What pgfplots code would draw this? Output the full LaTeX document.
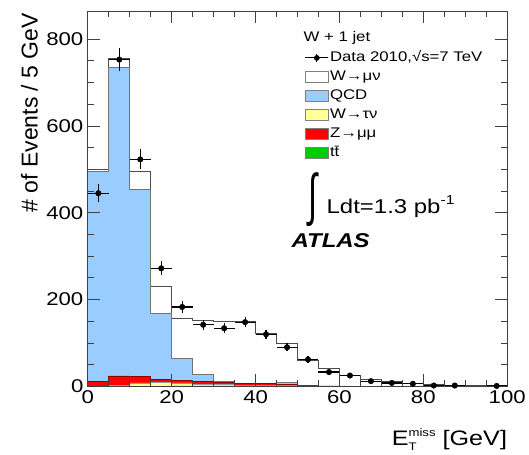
\documentclass[border=0pt]{standalone}
\usepackage{pgfplots}
\pgfplotsset{compat=1.18}
\usepackage{pgfplotstable}
\usepackage{graphicx}
\usepackage{fontspec}
\setmainfont{Liberation Sans}[FakeStretch=1.2]
\newfontfamily\plainsans{Liberation Sans}
\definecolor{qcdblue}{RGB}{153,204,255}
\definecolor{wtau}{RGB}{255,255,153}
\definecolor{zred}{RGB}{255,0,0}
\definecolor{ttgreen}{RGB}{0,204,0}

\pgfplotstableread{
x tot qcd red yel grn
0 501 495 12 0 0
5 756 735 24 2 0
10 495 454 22 8 0
15 230 169 17 9 0
20 157 65 14 8 1
25 152 27 11 5 1
30 150 12 10 4 1
35 150 8 7 3 1
40 123 8 7 3 1
45 100 10 5 2 1
50 59 2 2 1 0
55 41 1 1 0 0
60 25 0 0 0 0
65 16 0 0 0 0
70 11 0 0 0 0
75 7 0 0 0 0
80 4 0 0 0 0
85 3 0 0 0 0
90 2 0 0 0 0
95 1 0 0 0 0
100 1 0 0 0 0
}\stack

\pgfplotstableread{
x y ey
2.5 445 21.1
7.5 753 27.4
12.5 523 22.9
17.5 272 16.5
22.5 183 13.5
27.5 142 11.9
32.5 134 11.6
37.5 148 12.2
42.5 120 11.0
47.5 90 9.5
52.5 62 7.9
57.5 33 5.7
62.5 25 5.0
67.5 12 3.5
72.5 8 2.8
77.5 6 2.4
82.5 2 1.4
87.5 2 1.4
97.5 1 1.0
}\data

\begin{document}
\begin{tikzpicture}
\begin{axis}[
  scale only axis, width=420pt, height=376pt,
  xmin=0, xmax=100, ymin=0, ymax=865,
  xtick={0,20,...,100}, minor x tick num=3,
  ytick={0,200,...,800}, minor y tick num=3,
  tick align=inside, major tick length=12pt, minor tick length=6pt,
  xtick pos=both, ytick pos=both,
  axis line style={line width=0.9pt, black!75},
  every tick/.style={black!75, line width=0.8pt},
  tick label style={font=\fontsize{18.5}{20}\selectfont},
  /pgf/number format/assume math mode=true,
  scaled ticks=false,
  xticklabel style={yshift=-1pt},
  yticklabel style={xshift=-1pt},
  axis on top,
  xlabel={E\rlap{\raisebox{-5pt}{\fontsize{11}{11}\selectfont T}}\raisebox{9pt}{\fontsize{11}{11}\selectfont miss} [GeV]},
  xlabel style={at={(1,0)}, anchor=north east, inner sep=0pt, yshift=-42pt, font=\fontsize{21}{21}\selectfont},
  ylabel={\# of Events / 5 GeV},
  ylabel style={at={(0,1)}, anchor=south east, inner sep=0pt, yshift=50pt, xshift=-2pt, font=\plainsans\fontsize{23}{23}\selectfont},
  legend style={at={(0.517,0.896)}, anchor=north west, draw=none, fill=none,
    inner sep=0pt, row sep=3.7pt, font=\fontsize{14}{14}\selectfont,
    nodes={inner sep=1.2pt, text height=10pt, text depth=3pt}},
  legend cell align=left,
]
\addlegendimage{legend image code/.code={
  \draw[black, line width=1pt] (0pt,0pt) -- (23pt,0pt);
  \draw[black, line width=1pt] (11.5pt,-4pt) -- (11.5pt,4pt);
  \fill[black] (11.5pt,0pt) circle (2.6pt);}}
\addlegendentry{Data 2010,√s=7 TeV}
\addlegendimage{legend image code/.code={\draw[fill=white, draw=black!50, line width=0.9pt] (0pt,-5.5pt) rectangle (23pt,5.5pt);}}
\addlegendentry{W→μν}
\addlegendimage{legend image code/.code={\draw[fill=qcdblue, draw=black!50, line width=0.9pt] (0pt,-5.5pt) rectangle (23pt,5.5pt);}}
\addlegendentry{QCD}
\addlegendimage{legend image code/.code={\draw[fill=wtau, draw=black!50, line width=0.9pt] (0pt,-5.5pt) rectangle (23pt,5.5pt);}}
\addlegendentry{W→τν}
\addlegendimage{legend image code/.code={\draw[fill=zred, draw=black!50, line width=0.9pt] (0pt,-5.5pt) rectangle (23pt,5.5pt);}}
\addlegendentry{Z→μμ}
\addlegendimage{legend image code/.code={\draw[fill=ttgreen, draw=black!50, line width=0.9pt] (0pt,-5.5pt) rectangle (23pt,5.5pt);}}
\addlegendentry{t\={t}}

\addplot[const plot, fill=white, draw=black!70, line width=0.8pt, forget plot] table[x=x, y=tot] {\stack} \closedcycle;
\addplot[const plot, fill=qcdblue, draw=black!55, line width=0.8pt, forget plot] table[x=x, y=qcd] {\stack} \closedcycle;
\addplot[const plot, fill=zred, draw=red!55!black, line width=0.8pt, forget plot] table[x=x, y=red] {\stack} \closedcycle;
\addplot[const plot, fill=wtau, draw=black!40, line width=0.6pt, forget plot] table[x=x, y=yel] {\stack} \closedcycle;
\addplot[const plot, fill=ttgreen, draw=ttgreen!60!black, line width=0.5pt, forget plot] table[x=x, y=grn] {\stack} \closedcycle;

\addplot[only marks, mark=*, mark size=2.8pt, black, forget plot,
  error bars/.cd, x dir=both, x fixed=2.5, y dir=both, y explicit, error mark=none,
  error bar style={line width=1.2pt, black}]
  table[x=x, y=y, y error=ey] {\data};

\node[anchor=west, inner sep=0pt, font=\fontsize{14}{14}\selectfont] at (axis cs:51.4,802) {W + 1 jet};
\node[inner sep=0pt] at (axis cs:53.8,430) {\resizebox*{9pt}{54pt}{\plainsans ∫}};
\node[anchor=base west, inner sep=0pt, font=\fontsize{20}{20}\selectfont] at (axis cs:56.9,398) {Ldt=1.3 pb\raisebox{9pt}{\fontsize{13}{13}\selectfont -1}};
\node[inner sep=0pt, font=\fontsize{20}{20}\selectfont\bfseries\itshape] at (axis cs:57.9,335) {ATLAS};
\end{axis}
\path (-88pt,-68pt) rectangle (441pt,387pt);
\end{tikzpicture}
\end{document}
